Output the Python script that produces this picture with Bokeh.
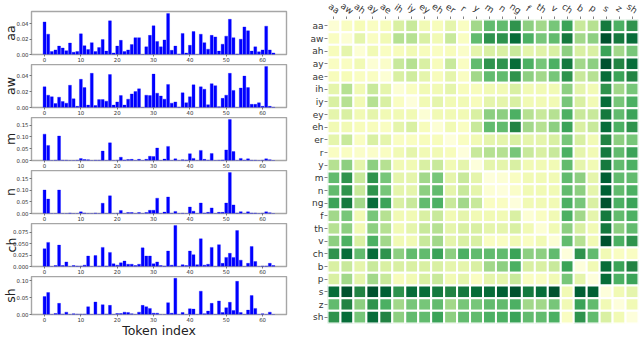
import numpy as np
from bokeh.plotting import figure
from bokeh.layouts import row, column
from bokeh.models import (FactorRange, Range1d, FixedTicker, PrintfTickFormatter,
                          LinearColorMapper, ColumnDataSource)
from bokeh.core.properties import value
from bokeh.transform import transform
from bokeh.embed import file_html
from bokeh.resources import INLINE

# ---------------- data: left bar panels ----------------
tokens = list(range(64))
x_ticks = [0, 10, 20, 30, 40, 50, 60]

aa_vals = [0.0425, 0.0266, 0.004, 0.006, 0.011, 0.0085, 0.005, 0.015, 0.003, 0.004,
           0.027, 0.0115, 0.0065, 0.0155, 0.004, 0.009, 0.0195, 0.0045, 0.044, 0.002,
           0.011, 0.0185, 0.004, 0.006, 0.013, 0.022, 0.022, 0.0, 0.010, 0.025,
           0.0375, 0.017, 0.010, 0.019, 0.0535, 0.0055, 0.011, 0.0005, 0.0275, 0.002,
           0.012, 0.030, 0.0, 0.0265, 0.0155, 0.007, 0.025, 0.023, 0.0045, 0.0135,
           0.024, 0.046, 0.022, 0.0005, 0.020, 0.036, 0.031, 0.0045, 0.010, 0.0035,
           0.006, 0.037, 0.006, 0.002]
aw_vals = [0.026, 0.0155, 0.0135, 0.005, 0.013, 0.0075, 0.0055, 0.028, 0.011, 0.0015,
           0.0355, 0.025, 0.003, 0.043, 0.0025, 0.010, 0.010, 0.008, 0.0415, 0.003,
           0.007, 0.015, 0.003, 0.0105, 0.017, 0.020, 0.0235, 0.0, 0.0155, 0.015,
           0.042, 0.018, 0.0145, 0.0105, 0.029, 0.0055, 0.007, 0.0005, 0.0185, 0.006,
           0.0135, 0.0285, 0.0, 0.026, 0.023, 0.0035, 0.030, 0.0275, 0.001, 0.0115,
           0.0155, 0.043, 0.0215, 0.0, 0.0245, 0.0395, 0.025, 0.004, 0.004, 0.006,
           0.0015, 0.0515, 0.0015, 0.0003]
m_vals = [0.112, 0.064, 0.0, 0.001, 0.104, 0.001, 0.001, 0.0, 0.0, 0.001,
          0.008, 0.004, 0.003, 0.0, 0.001, 0.001, 0.040, 0.0, 0.075, 0.0,
          0.001, 0.014, 0.002, 0.004, 0.005, 0.0, 0.005, 0.0, 0.005, 0.018,
          0.017, 0.053, 0.0, 0.006, 0.060, 0.0, 0.007, 0.0, 0.003, 0.002,
          0.029, 0.009, 0.0, 0.043, 0.005, 0.001, 0.030, 0.0, 0.001, 0.002,
          0.045, 0.174, 0.038, 0.0, 0.009, 0.001, 0.007, 0.001, 0.001, 0.0,
          0.001, 0.007, 0.003, 0.0]
n_vals = [0.101, 0.062, 0.0, 0.0, 0.101, 0.0, 0.0, 0.002, 0.0, 0.0,
          0.007, 0.002, 0.0, 0.0, 0.002, 0.0, 0.044, 0.0, 0.076, 0.0,
          0.001, 0.013, 0.0, 0.004, 0.004, 0.0, 0.004, 0.0, 0.004, 0.014,
          0.014, 0.066, 0.0, 0.006, 0.071, 0.001, 0.009, 0.0, 0.001, 0.0,
          0.028, 0.010, 0.0, 0.045, 0.002, 0.005, 0.024, 0.0, 0.005, 0.005,
          0.045, 0.176, 0.037, 0.002, 0.008, 0.0, 0.007, 0.002, 0.002, 0.0,
          0.001, 0.007, 0.003, 0.0]
ch_vals = [0.039, 0.053, 0.0, 0.002, 0.047, 0.002, 0.010, 0.0, 0.002, 0.001,
           0.001, 0.003, 0.023, 0.0, 0.024, 0.001, 0.042, 0.001, 0.031, 0.006,
           0.003, 0.008, 0.012, 0.005, 0.005, 0.002, 0.005, 0.041, 0.023, 0.023,
           0.006, 0.010, 0.002, 0.001, 0.034, 0.003, 0.090, 0.0, 0.004, 0.002,
           0.034, 0.026, 0.004, 0.061, 0.003, 0.005, 0.042, 0.0, 0.048, 0.007,
           0.020, 0.029, 0.020, 0.079, 0.014, 0.0, 0.007, 0.044, 0.011, 0.0,
           0.001, 0.001, 0.007, 0.002]
sh_vals = [0.053, 0.065, 0.0, 0.003, 0.033, 0.001, 0.007, 0.0, 0.002, 0.001,
           0.001, 0.001, 0.023, 0.0, 0.037, 0.0, 0.029, 0.001, 0.027, 0.0,
           0.003, 0.003, 0.007, 0.006, 0.002, 0.0, 0.007, 0.027, 0.023, 0.018,
           0.004, 0.004, 0.0, 0.0, 0.035, 0.004, 0.107, 0.0, 0.006, 0.0,
           0.017, 0.016, 0.0, 0.069, 0.002, 0.010, 0.033, 0.0, 0.040, 0.006,
           0.020, 0.036, 0.012, 0.098, 0.006, 0.0, 0.013, 0.056, 0.018, 0.0,
           0.002, 0.0, 0.007, 0.0]

panel_names = ["aa", "aw", "m", "n", "ch", "sh"]
panel_values = [aa_vals, aw_vals, m_vals, n_vals, ch_vals, sh_vals]
ticks_small = [0.0, 0.02, 0.04]
ticks_large = [0.0, 0.05, 0.10, 0.15]
ticks_ch = [0.0, 0.025, 0.05, 0.075]
ticks_sh = [0.0, 0.05, 0.10]
panel_ticks = [ticks_small, ticks_small, ticks_large, ticks_large, ticks_ch, ticks_sh]
panel_formats = ["%.2f", "%.2f", "%.2f", "%.2f", "%.3f", "%.2f"]

# ---------------- data: right heatmap ----------------
phones = ["aa", "aw", "ah", "ay", "ae", "ih", "iy", "ey", "eh", "er", "r", "y",
          "m", "n", "ng", "f", "th", "v", "ch", "b", "p", "s", "z", "sh"]
row_aa = [0.5, 1.0, 1.3, 1.0, 1.2, 2.5, 3.0, 1.5, 1.2, 2.0, 1.0, 4.0, 5.5, 5.5, 7.0, 4.5, 4.0, 5.0, 6.5, 3.0, 3.5, 8.0, 6.0, 7.0]
row_aw = [1.0, 0.5, 2.0, 1.0, 1.5, 3.5, 3.5, 2.5, 1.5, 3.0, 1.0, 5.5, 7.0, 7.0, 8.5, 6.0, 5.0, 5.5, 8.0, 4.0, 4.5, 9.5, 8.0, 8.5]
row_ah = [1.2, 2.0, 0.5, 1.5, 1.0, 1.2, 1.5, 1.2, 1.0, 1.2, 0.8, 2.0, 2.5, 2.5, 3.0, 2.0, 2.2, 2.5, 4.5, 2.5, 2.5, 6.5, 4.0, 5.0]
row_ay = [1.0, 1.0, 1.5, 0.5, 0.8, 3.0, 3.5, 2.5, 1.2, 3.0, 1.0, 5.5, 7.0, 7.0, 8.5, 6.0, 5.0, 6.0, 8.0, 4.0, 4.5, 9.5, 7.5, 8.5]
row_ae = [1.2, 1.3, 1.0, 1.0, 0.5, 2.5, 2.8, 2.0, 1.2, 2.0, 1.0, 4.0, 5.5, 5.5, 7.0, 4.5, 4.0, 5.0, 7.0, 3.0, 3.5, 8.5, 6.5, 7.5]
row_ih = [2.0, 3.5, 1.5, 3.0, 2.0, 0.5, 1.0, 1.5, 1.5, 2.0, 1.2, 1.2, 1.5, 1.5, 2.5, 1.5, 1.5, 1.5, 4.5, 2.0, 1.5, 7.0, 4.0, 5.0]
row_iy = [2.5, 3.5, 1.5, 3.5, 2.5, 1.0, 0.3, 1.5, 2.0, 1.5, 1.5, 1.2, 2.0, 2.0, 2.5, 1.5, 1.5, 1.5, 5.0, 2.5, 1.5, 8.5, 5.0, 6.0]
row_ey = [2.0, 2.5, 1.5, 2.0, 1.5, 1.5, 1.5, 0.5, 1.5, 1.5, 1.5, 2.5, 4.5, 4.5, 6.0, 3.5, 3.0, 3.5, 6.0, 3.0, 3.0, 8.0, 5.5, 6.5]
row_eh = [1.5, 1.5, 1.2, 1.2, 1.0, 2.0, 2.5, 1.2, 0.5, 1.5, 1.0, 3.0, 5.5, 5.5, 7.5, 4.0, 3.5, 4.5, 6.5, 2.5, 3.0, 8.5, 6.0, 7.0]
row_er = [2.0, 3.0, 1.0, 2.5, 2.0, 1.0, 1.0, 1.2, 1.2, 0.3, 1.0, 1.5, 2.0, 2.0, 2.5, 2.0, 2.0, 2.5, 5.0, 2.5, 1.5, 7.5, 4.5, 5.0]
row_r = [1.0, 1.0, 0.8, 0.8, 1.0, 1.5, 2.0, 1.5, 1.5, 1.2, 0.3, 3.0, 3.5, 3.5, 5.0, 3.0, 2.5, 3.0, 6.0, 2.0, 1.5, 8.0, 5.5, 6.5]
row_y = [3.5, 4.5, 2.0, 4.5, 3.5, 1.5, 1.5, 2.5, 3.0, 1.5, 2.0, 0.3, 2.0, 2.0, 2.5, 1.5, 1.5, 1.5, 5.5, 2.0, 1.5, 8.0, 5.5, 6.0]
row_m = [5.5, 7.0, 3.0, 7.0, 5.0, 2.0, 2.0, 4.0, 5.0, 2.0, 3.0, 2.0, 0.3, 0.5, 1.0, 1.5, 1.5, 1.5, 5.5, 4.5, 2.0, 9.0, 5.5, 5.5]
row_n = [5.5, 7.0, 3.0, 7.0, 5.0, 2.0, 2.0, 4.5, 5.5, 2.0, 3.0, 2.0, 0.5, 0.3, 0.8, 1.5, 1.5, 1.5, 5.5, 4.5, 2.0, 9.0, 5.5, 6.0]
row_ng = [6.5, 8.0, 4.0, 8.5, 6.5, 2.5, 3.0, 5.5, 6.0, 3.0, 4.0, 3.0, 1.0, 1.0, 0.3, 1.5, 1.5, 1.5, 6.0, 5.0, 2.5, 9.5, 6.0, 6.5]
row_f = [4.0, 5.0, 1.5, 5.0, 3.5, 1.5, 1.5, 2.5, 3.0, 1.5, 2.0, 1.5, 1.5, 1.5, 2.5, 0.5, 1.0, 1.5, 6.0, 4.0, 2.0, 8.0, 5.5, 6.0]
row_th = [3.5, 4.5, 1.5, 4.5, 3.5, 1.5, 2.0, 3.0, 3.5, 2.0, 2.5, 2.5, 2.0, 2.0, 2.5, 1.5, 0.5, 1.5, 4.5, 2.5, 1.5, 8.0, 4.5, 5.5]
row_v = [4.5, 6.0, 2.5, 6.0, 4.0, 1.5, 1.5, 3.0, 4.0, 2.0, 2.5, 2.5, 1.0, 1.0, 1.5, 1.0, 1.5, 0.5, 5.5, 3.5, 1.5, 9.5, 6.0, 7.0]
row_ch = [7.0, 8.5, 5.5, 8.5, 7.0, 4.5, 5.5, 5.5, 6.5, 4.5, 6.0, 5.5, 5.5, 5.5, 6.5, 4.5, 4.5, 5.5, 0.3, 7.0, 5.5, 1.5, 1.0, 1.0]
row_b = [2.5, 3.0, 2.0, 3.0, 2.5, 2.5, 2.5, 2.5, 2.5, 2.0, 2.0, 2.5, 4.0, 4.5, 6.0, 2.5, 2.5, 3.0, 6.5, 0.3, 1.5, 8.5, 6.5, 7.5]
row_p = [2.5, 4.0, 2.0, 4.0, 3.0, 1.2, 1.5, 2.5, 3.0, 1.5, 2.0, 1.0, 2.0, 2.0, 3.0, 1.0, 1.0, 1.5, 5.0, 2.0, 0.3, 8.5, 6.0, 6.5]
row_s = [8.5, 9.5, 7.5, 9.5, 9.0, 7.0, 8.5, 8.5, 8.0, 7.5, 8.0, 8.5, 8.5, 9.0, 9.5, 8.0, 8.5, 9.5, 1.5, 9.0, 9.0, 0.3, 1.5, 2.0]
row_z = [5.5, 7.5, 4.5, 7.0, 6.0, 4.0, 5.0, 5.0, 5.5, 4.0, 5.0, 5.0, 5.5, 5.5, 6.0, 4.0, 4.0, 5.0, 1.5, 6.5, 5.5, 1.5, 0.3, 1.5]
row_sh = [7.0, 8.5, 5.0, 8.5, 7.5, 4.5, 5.5, 5.5, 6.5, 4.5, 5.5, 5.5, 6.0, 6.0, 6.5, 5.5, 5.5, 6.0, 1.0, 7.0, 5.5, 2.5, 1.5, 0.3]
heat_rows = [row_aa, row_aw, row_ah, row_ay, row_ae, row_ih, row_iy, row_ey, row_eh,
             row_er, row_r, row_y, row_m, row_n, row_ng, row_f, row_th, row_v,
             row_ch, row_b, row_p, row_s, row_z, row_sh]

FONT = "DejaVu Sans"
TXT = "#333333"

# ---------------- left column ----------------
figs = []
n_panels = len(panel_names)
for i, (name, vals, yt, fmt) in enumerate(zip(panel_names, panel_values, panel_ticks, panel_formats)):
    ymax = max(vals) * 1.05
    last = i == n_panels - 1
    top_b = 11 if i == 0 else 0
    bot_b = 23 if last else 10
    frame_h = 41 if last else 43
    p = figure(width=290, height=top_b + frame_h + bot_b,
               x_range=Range1d(-3.59, 66.59), y_range=Range1d(0, ymax),
               output_backend="svg", toolbar_location=None,
               min_border_left=28, min_border_right=4, min_border_top=top_b,
               min_border_bottom=bot_b)
    p.vbar(x=tokens, top=vals, width=0.8, fill_color="#0000ff", line_color="#0000ff", line_width=0.3)
    p.xgrid.visible = False
    p.ygrid.visible = False
    p.outline_line_color = "#a6a6a6"
    p.outline_line_width = 1.4
    p.xaxis.ticker = FixedTicker(ticks=x_ticks)
    p.yaxis.ticker = FixedTicker(ticks=yt)
    p.yaxis.formatter = PrintfTickFormatter(format=fmt)
    for ax in (p.xaxis[0], p.yaxis[0]):
        ax.axis_line_color = None
        ax.major_tick_line_color = "#555555"
        ax.major_tick_line_width = 0.8
        ax.major_tick_out = 2
        ax.major_tick_in = 0
        ax.minor_tick_line_color = None
        ax.major_label_text_font_size = "5.4px"
        ax.major_label_text_color = TXT
        ax.major_label_text_font = FONT
        ax.major_label_standoff = 1
    p.yaxis.axis_label = name
    p.yaxis.axis_label_text_font = FONT
    p.yaxis.axis_label_text_font_size = "12.5px"
    p.yaxis.axis_label_text_font_style = "normal"
    p.yaxis.axis_label_text_color = "#222222"
    p.yaxis.axis_label_standoff = -9 if fmt == "%.3f" else -5
    if last:
        p.xaxis.axis_label = "Token index"
        p.xaxis.axis_label_text_font = FONT
        p.xaxis.axis_label_text_font_size = "12.5px"
        p.xaxis.axis_label_text_font_style = "normal"
        p.xaxis.axis_label_text_color = "#222222"
        p.xaxis.axis_label_standoff = -2
    figs.append(p)

left = column(*figs, spacing=0)

# ---------------- heatmap ----------------
pal9 = ["#ffffe5", "#f7fcb9", "#d9f0a3", "#addd8e", "#78c679", "#41ab5d", "#238443", "#006837", "#004529"]
rgb = np.array([[int(c[k:k + 2], 16) for k in (1, 3, 5)] for c in pal9], dtype=float)
pos = np.linspace(0, 1, len(pal9))
palette = []
for t in np.linspace(0, 1, 256):
    r = [np.interp(t, pos, rgb[:, k]) for k in range(3)]
    palette.append("#%02x%02x%02x" % tuple(int(round(v)) for v in r))
mapper = LinearColorMapper(palette=palette, low=0, high=10)

xs, ys, vs = [], [], []
for rname, rvals in zip(phones, heat_rows):
    for cname, v in zip(phones, rvals):
        xs.append(cname)
        ys.append(rname)
        vs.append(v)
src = ColumnDataSource(dict(x=xs, y=ys, v=vs))

shared_x = FactorRange(*phones)

# column labels on top (rotated, centred on each column), with the tick marks
top = figure(width=350, height=19, x_range=shared_x, y_range=Range1d(0, 1),
             x_axis_location="below", y_axis_location=None,
             output_backend="svg", toolbar_location=None,
             min_border_left=37, min_border_right=2, min_border_top=0, min_border_bottom=3)
top.outline_line_color = None
top.xgrid.visible = False
top.ygrid.visible = False
top.text(x=phones, y=[0.5] * len(phones), text=phones, angle=-0.6,
         text_align="center", text_baseline="middle",
         text_font=value(FONT), text_font_size="9px", text_color=TXT)
tax = top.xaxis[0]
tax.axis_line_color = None
tax.major_tick_line_color = "#666666"
tax.major_tick_line_width = 0.8
tax.major_tick_out = 3
tax.major_tick_in = 0
tax.minor_tick_line_color = None
tax.major_label_text_color = None
tax.major_label_text_font_size = "1px"
tax.major_label_standoff = 0

hm = figure(width=350, height=321, x_range=shared_x,
            y_range=FactorRange(*list(reversed(phones))),
            x_axis_location=None, output_backend="svg", toolbar_location=None,
            min_border_left=37, min_border_right=2, min_border_top=0, min_border_bottom=17)
hm.rect(x="x", y="y", width=1, height=1, source=src,
        fill_color=transform("v", mapper), line_color="white", line_width=2)
hm.outline_line_color = None
hm.xgrid.visible = False
hm.ygrid.visible = False
yax = hm.yaxis[0]
yax.axis_line_color = None
yax.major_tick_line_color = "#666666"
yax.major_tick_line_width = 0.8
yax.major_tick_out = 3
yax.major_tick_in = 0
yax.minor_tick_line_color = None
yax.major_label_text_color = TXT
yax.major_label_text_font = FONT
yax.major_label_text_font_size = "9px"
yax.major_label_standoff = 1

right = column(top, hm, spacing=0)
layout = row(left, right, spacing=0)
open("out.html", "w").write(file_html(layout, INLINE))
